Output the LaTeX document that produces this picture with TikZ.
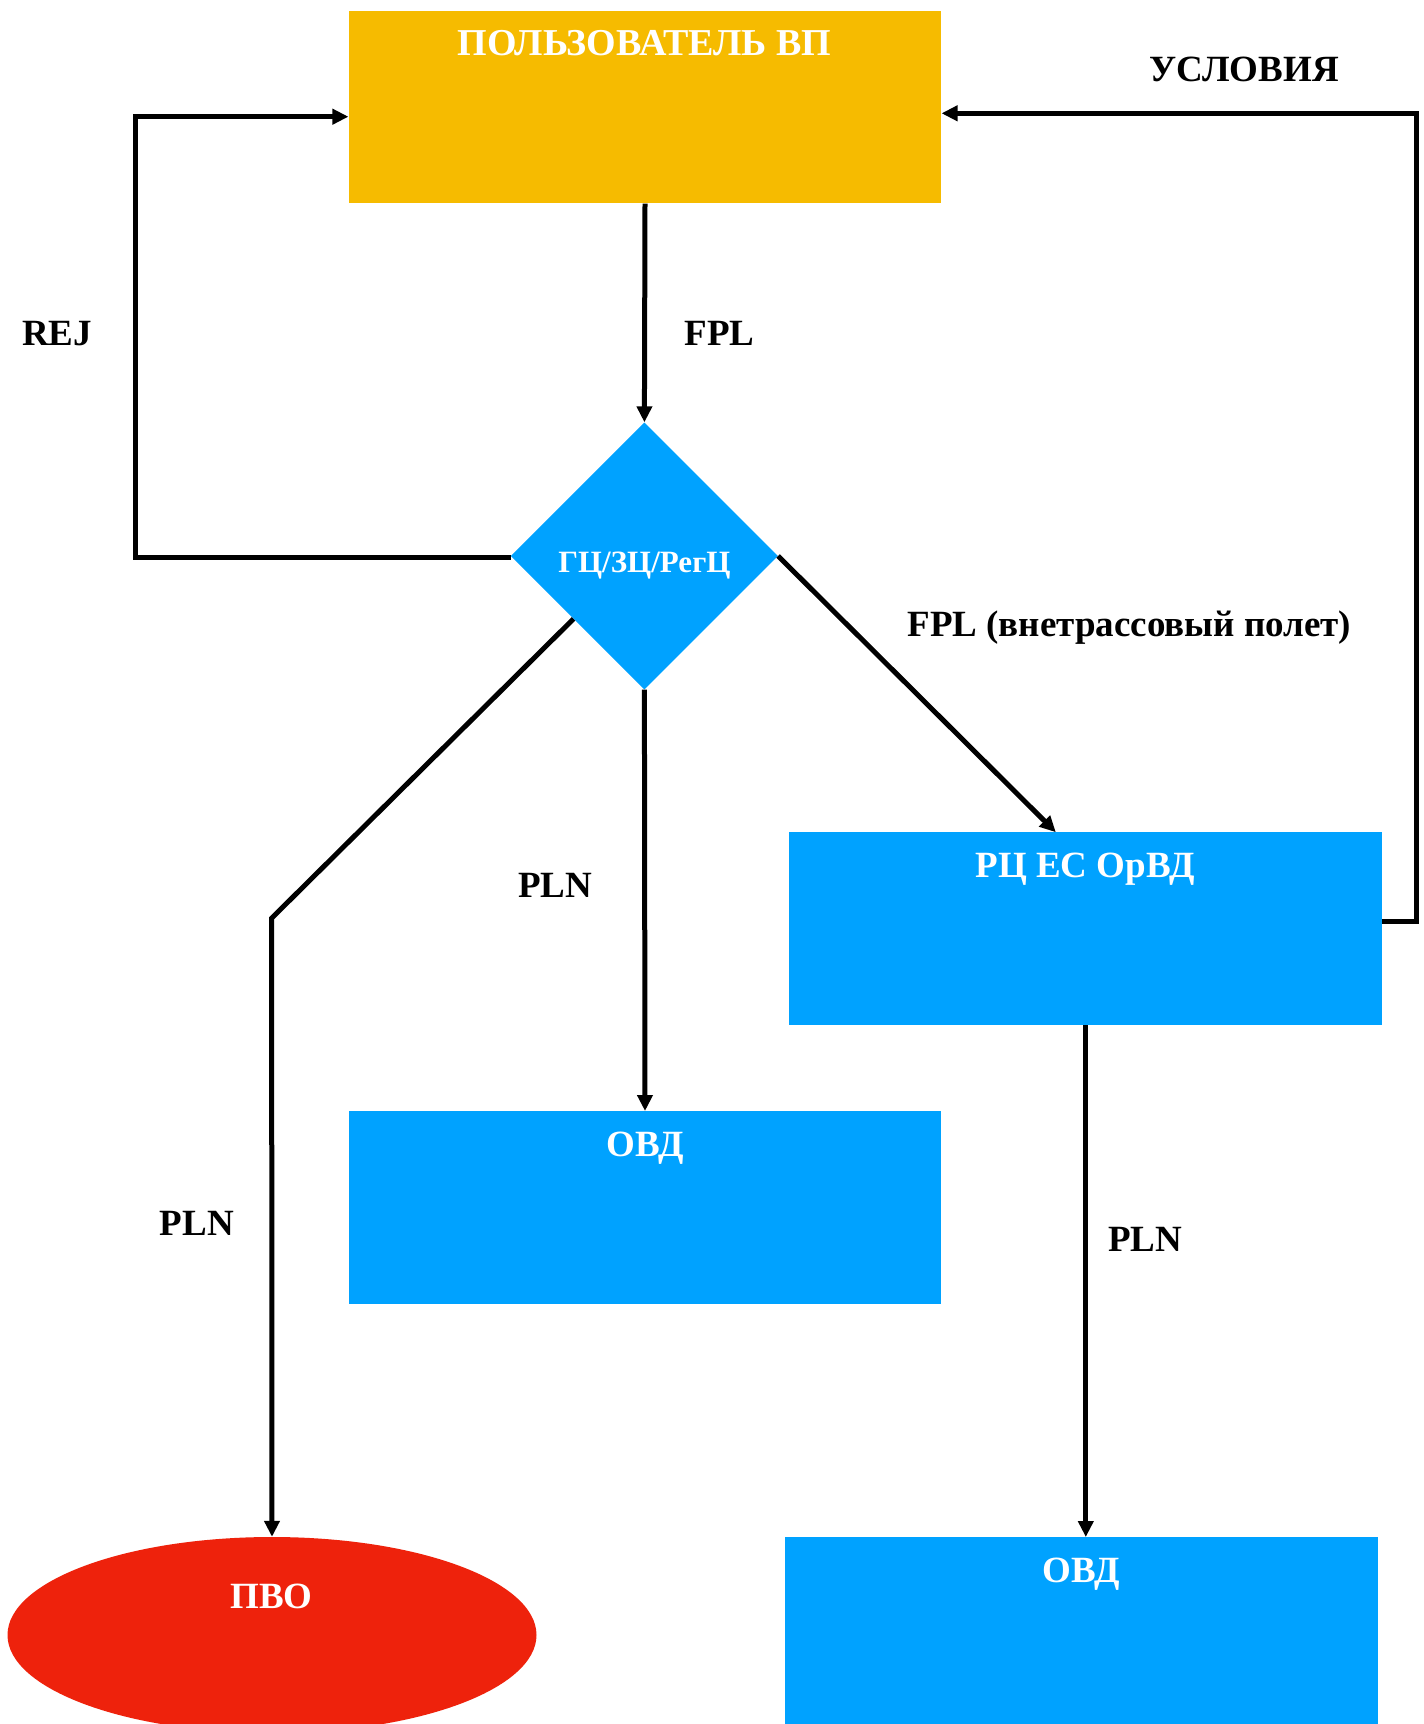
\documentclass[tikz,border=0pt]{standalone}
\usepackage{fontspec}
\setmainfont{Liberation Serif}
\usetikzlibrary{arrows.meta,shapes.geometric,calc}
\definecolor{cOrange}{RGB}{246,187,0}
\definecolor{cBlue}{RGB}{0,162,255}
\definecolor{cRed}{RGB}{238,34,12}
\begin{document}
\begin{tikzpicture}[x=1pt,y=-1pt,
  box/.style={rectangle, fill=cBlue, draw=none, minimum width=592.7pt, minimum height=192.4pt, inner sep=0pt},
  wtxt/.style={text=white, font=\bfseries\fontsize{37}{40}\selectfont, inner sep=0pt, text height=25pt, text depth=0pt},
  btxt/.style={text=black, font=\bfseries\fontsize{37}{40}\selectfont, inner sep=0pt, text height=25pt, text depth=0pt},
  conn/.style={draw=black, line width=5pt, -{Triangle[length=16pt,width=15pt]}}]
\fill[white] (0,0) rectangle (1424,1724);
\useasboundingbox (0,0) rectangle (1424,1724);

% shapes
\node[box, fill=cOrange] (user) at (645,107.2) {};
\node[wtxt, font=\bfseries\fontsize{38}{41}\selectfont] (userT) at (644.4,42.9) {ПОЛЬЗОВАТЕЛЬ ВП};
\node[diamond, fill=cBlue, draw=none, minimum width=267pt, minimum height=267pt, inner sep=0pt, shape aspect=1] (gc) at (644.4,556) {};
\node[wtxt, font=\bfseries\fontsize{31}{34}\selectfont, text height=21pt] (gcT) at (644.4,562) {ГЦ/ЗЦ/РегЦ};
\node[box] (rc) at (1085.8,928.6) {};
\node[wtxt] (rcT) at (1085.3,865.4) {РЦ ЕС ОрВД};
\node[box] (ovd1) at (645,1207.4) {};
\node[wtxt] (ovd1T) at (645,1143.6) {ОВД};
\node[box] (ovd2) at (1081.4,1633.4) {};
\node[wtxt] (ovd2T) at (1081,1570.2) {ОВД};
\node[ellipse, fill=cRed, draw=none, minimum width=529pt, minimum height=196pt, inner sep=0pt] (pvo) at (272,1635) {};
\node[wtxt] (pvoT) at (271.6,1595.5) {ПВО};

% helper coordinates
\coordinate (rejC) at (135.3,116.7);
\coordinate (uslC) at (1416,113.3);
\coordinate (lb) at (271.6,918.2);

% connectors
\draw[conn] (user.south) -- (gc.north);
\draw[conn] ([yshift=-1.5pt]gc.west) -| (rejC) -- (rejC -| user.west);
\draw[conn] ([yshift=7pt]rc.east) -| (uslC) -- (uslC -| user.east);
\draw[conn] (gc.east) -- ([xshift=-30pt]rc.north);
\draw[conn] (gc.south) -- (ovd1.north);
\draw[conn] ($(gc.west)!0.47!(gc.south)$) -- (lb) -- (pvo.north);
\draw[conn] (rc.south) -- (rc.south |- ovd2.north);

% labels
\node[btxt] (lUsl) at (1244,69.3) {УСЛОВИЯ};
\node[btxt] (lRej) at (57.2,333.2) {REJ};
\node[btxt] (lFpl) at (719.7,333.2) {FPL};
\node[btxt] (lFpl2) at (1129.3,623.5) {FPL (внетрассовый полет)};
\node[btxt] (lPln1) at (555.3,885.2) {PLN};
\node[btxt] (lPln2) at (196.8,1222.8) {PLN};
\node[btxt] (lPln3) at (1145.2,1239.3) {PLN};
\end{tikzpicture}
\end{document}
